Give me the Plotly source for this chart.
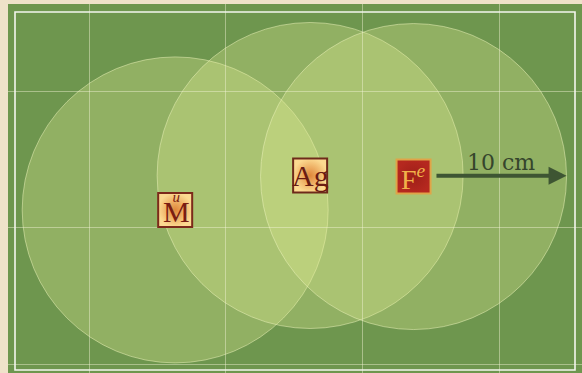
import plotly.graph_objects as go

# element tiles: position in cm, circle of reach = 10 cm
names = ["Mu", "Ag", "Fe"]
cx = [11.45, 20.27, 27.03]
cy = [13.72, 11.47, 11.54]
reach_cm = 10
scale_label = "10 cm"

px_per_cm = 15.3
W, H = 582, 373
ml, mt = 8, 4

fig = go.Figure()

# reach circles
for x, y in zip(cx, cy):
    fig.add_shape(type="circle", xref="x", yref="y",
                  x0=x - reach_cm, x1=x + reach_cm,
                  y0=y - reach_cm, y1=y + reach_cm,
                  fillcolor="rgba(228,238,150,0.30)",
                  line=dict(color="rgba(240,245,190,0.5)", width=1),
                  layer="below")

# tiles
fill = ["#fcd990", "#fcd990", "#b5281f"]
grad = ["#e0873a", "#e0873a", "#9e1f18"]
edge = ["#7c2a1a", "#6e2a1a", "#e0a448"]
fig.add_trace(go.Scatter(
    x=cx, y=cy, mode="markers", hoverinfo="skip",
    marker=dict(symbol="square", size=34, color=fill,
                gradient=dict(type="radial", color=grad),
                line=dict(color=edge, width=2))))

red = "#7a1d12"
fig.add_annotation(x=cx[0], y=cy[0], yshift=1, xshift=1,
                   text="<i>u</i><br><span style='font-size:30px'>M</span>",
                   showarrow=False,
                   font=dict(family="Liberation Serif", size=15, color=red))
fig.add_annotation(x=cx[1], y=cy[1], yshift=0, text="Ag", showarrow=False,
                   font=dict(family="Liberation Serif", size=30, color="#6a1c12"))
fig.add_annotation(x=cx[2], y=cy[2], xshift=0, yshift=-1,
                   text="F<sup><i>e</i></sup>", showarrow=False,
                   font=dict(family="Liberation Serif", size=28, color="#f1b24a"))

# scale arrow from the Fe tile to the edge of its circle
x_start = cx[2] + 1.4
x_end = cx[2] + reach_cm
fig.add_annotation(x=x_end, y=cy[2] - 0.05, ax=x_start, ay=cy[2] - 0.05,
                   xref="x", yref="y", axref="x", ayref="y",
                   text="", showarrow=True, arrowhead=2, arrowsize=0.9,
                   arrowwidth=4, arrowcolor="#3e5533")
fig.add_annotation(x=(x_start + x_end) / 2, y=cy[2] - 0.95, text=scale_label,
                   showarrow=False,
                   font=dict(family="DejaVu Serif", size=22, color="#35452c"))

# white frame
fig.add_shape(type="rect", xref="paper", yref="paper",
              x0=(15 - ml) / (W - ml), x1=(575 - ml) / (W - ml),
              y0=(H - 370) / (H - mt), y1=(H - 12) / (H - mt),
              line=dict(color="#f4f6ee", width=1.6))

axis = dict(showticklabels=False, zeroline=False, ticks="",
            showgrid=True, gridcolor="rgba(245,245,215,0.45)", gridwidth=1,
            dtick=8.95)
fig.update_xaxes(axis, range=[ml / px_per_cm, W / px_per_cm], tick0=5.82)
fig.update_yaxes(axis, range=[H / px_per_cm, mt / px_per_cm], tick0=5.95)

fig.update_layout(
    width=W, height=H, showlegend=False,
    margin=dict(l=ml, r=0, t=mt, b=0, pad=0),
    paper_bgcolor="#efe2c9", plot_bgcolor="#6e964e",
)

fig.write_html("out.html", config={"displayModeBar": False},
               post_script="document.body.style.margin='0';document.body.style.overflow='hidden';")
